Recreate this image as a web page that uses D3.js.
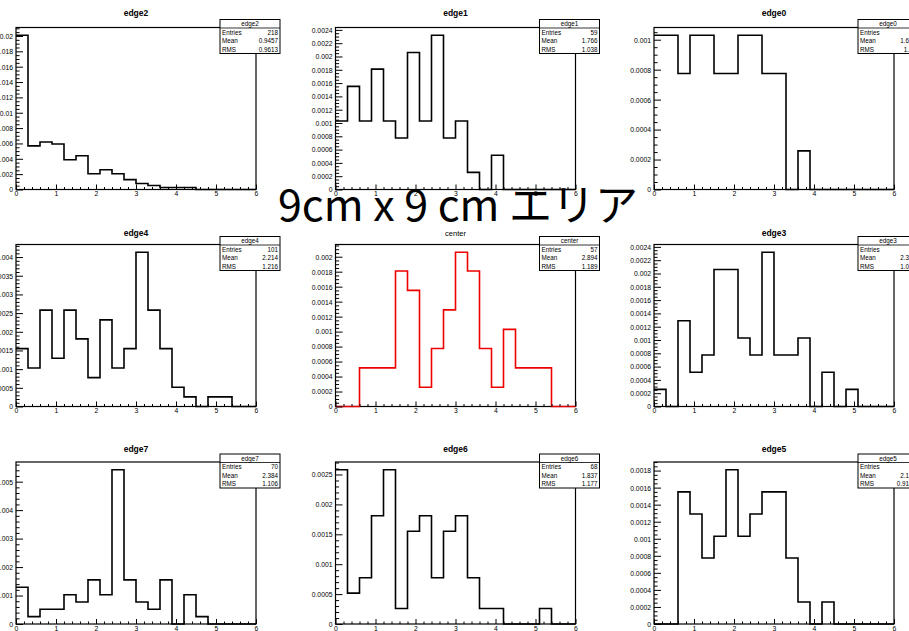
<!DOCTYPE html>
<html><head><meta charset="utf-8">
<script src="https://cdn.jsdelivr.net/npm/d3@7"></script>
<style>body{margin:0;background:#fff;overflow:hidden} svg{display:block}</style>
</head><body>
<svg id="c" width="909" height="631"></svg>
<script>
// ---- data (bin contents, 20 bins from 0 to 6) ----
const binLow = 0, binHigh = 6, nBins = 20;
const xTicks = [0, 1, 2, 3, 4, 5, 6];
const edge2  = [0.0201,0.00568,0.00619,0.00593,0.00387,0.00439,0.00206,0.00258,0.00206,0.00129,0.000774,0.000516,0.000258,0.000258,0.000258,0,0,0,0,0];
const edge1  = [0.00103,0.00155,0.00103,0.00181,0.00103,0.000774,0.00206,0.00103,0.00232,0.000774,0.00103,0.000258,0,0.000516,0,0,0,0,0,0];
const edge0  = [0.00103,0.00103,0.000774,0.00103,0.00103,0.000774,0.000774,0.00103,0.00103,0.000774,0.000774,0,0.000258,0,0,0,0,0,0,0];
const edge4  = [0.00155,0.00103,0.00258,0.00129,0.00258,0.00181,0.000774,0.00232,0.00103,0.00155,0.00413,0.00258,0.00155,0.000516,0.000258,0,0.000258,0.000258,0,0];
const center = [0,0,0.000516,0.000516,0.000516,0.00181,0.00155,0.000258,0.000774,0.00129,0.00206,0.00181,0.000774,0.000258,0.00103,0.000516,0.000516,0.000516,0,0];
const edge3  = [0.000258,0,0.00129,0.000516,0.000774,0.00206,0.00206,0.00103,0.000774,0.00232,0.000774,0.000774,0.00103,0,0.000516,0,0.000258,0,0,0];
const edge7  = [0.00129,0.000258,0.000516,0.000516,0.00103,0.000774,0.00155,0.00103,0.00542,0.00155,0.000774,0.000516,0.00155,0,0.00103,0.000258,0,0,0,0];
const edge6  = [0.00258,0.000516,0.000774,0.00181,0.00258,0.000258,0.00155,0.00181,0.000774,0.00155,0.00181,0.000774,0.000258,0.000258,0,0,0,0.000258,0,0];
const edge5  = [0,0,0.00155,0.00129,0.000774,0.00103,0.00181,0.00103,0.00129,0.00155,0.00155,0.000774,0.000258,0,0.000258,0,0,0,0,0];

const names   = ["edge2","edge1","edge0","edge4","center","edge3","edge7","edge6","edge5"];
const series  = [edge2, edge1, edge0, edge4, center, edge3, edge7, edge6, edge5];
const entries = ["218","59","40","101","57","56","70","68","51"];
const means   = ["0.9457","1.766","1.624","2.214","2.894","2.316","2.384","1.837","2.185"];
const rmsVals = ["0.9613","1.038","1.04","1.216","1.189","1.032","1.106","1.177","0.9163"];
const yStep   = [0.002,0.0002,0.0002,0.0005,0.0002,0.0002,0.001,0.0005,0.0002];
const lineColors = ["#000","#000","#000","#000","#e00","#000","#000","#000","#000"];
const overlayText = "9cm x 9 cm エリア";

// ---- layout ----
const svg = d3.select("#c");
svg.append("rect").attr("width",909).attr("height",631).attr("fill","#fff");
const colX = [16, 335.5, 654];
const rowY = [27.5, 244.5, 462];
const titleY = [16.3, 235.6, 452.4];
const FW = 240, FH = 162;
const FONT = "'Liberation Sans', Arial, Helvetica, sans-serif";
const fmt = d3.format("~g");
const binEdges = d3.range(nBins + 1).map(i => +(binLow + i * (binHigh - binLow) / nBins).toFixed(6));

series.forEach((vals, i) => {
  const c = i % 3, r = Math.floor(i / 3);
  const fx = colX[c], fy = rowY[r];
  const ymax = 1.05 * d3.max(vals);
  const x = d3.scaleLinear([binLow, binHigh], [fx, fx + FW]);
  const y = d3.scaleLinear([0, ymax], [fy + FH, fy]);
  const g = svg.append("g");

  // frame
  g.append("rect").attr("x", fx).attr("y", fy).attr("width", FW).attr("height", FH)
    .attr("fill", "none").attr("stroke", "#000").attr("stroke-width", 1.2);

  // histogram
  const pts = vals.map((v, k) => [binEdges[k], v]);
  pts.push([binEdges[nBins], vals[nBins - 1]]);
  const line = d3.line().x(d => x(d[0])).y(d => y(d[1])).curve(d3.curveStepAfter);
  g.append("path").attr("d", line(pts)).attr("fill", "none")
    .attr("stroke", lineColors[i]).attr("stroke-width", 1.6);

  // x axis major + minor
  const xMinor = d3.range(0, 31).map(k => +(k * 0.2).toFixed(4)).filter(v => !xTicks.includes(v));
  const xa = g.append("g").attr("transform", `translate(0,${fy + FH})`)
    .call(d3.axisBottom(x).tickValues(xTicks).tickSizeInner(-5).tickSizeOuter(0).tickPadding(2).tickFormat(fmt));
  const xm = g.append("g").attr("transform", `translate(0,${fy + FH})`)
    .call(d3.axisBottom(x).tickValues(xMinor).tickSizeInner(-2.5).tickSizeOuter(0).tickFormat(""));

  // y axis major + minor
  const st = yStep[i];
  const nMaj = Math.floor(ymax / st + 1e-9);
  const yMaj = d3.range(nMaj + 1).map(k => +(k * st).toPrecision(8));
  const mant = +(st / Math.pow(10, Math.floor(Math.log10(st)))).toFixed(3);
  const sub = mant === 2 ? 4 : 5;
  const ms = st / sub;
  const nMin = Math.floor(ymax / ms + 1e-9);
  const yMin = d3.range(nMin + 1).filter(k => k % sub !== 0).map(k => +(k * ms).toPrecision(8));
  const ya = g.append("g").attr("transform", `translate(${fx},0)`)
    .call(d3.axisLeft(y).tickValues(yMaj).tickSizeInner(-7).tickSizeOuter(0).tickPadding(3).tickFormat(fmt));
  const ym = g.append("g").attr("transform", `translate(${fx},0)`)
    .call(d3.axisLeft(y).tickValues(yMin).tickSizeInner(-3.6).tickSizeOuter(0).tickFormat(""));

  [xa, xm, ya, ym].forEach(a => {
    a.select(".domain").remove();
    a.selectAll("line").attr("stroke", "#000").attr("stroke-width", 1);
    a.selectAll("text").attr("fill", "#000").style("font-family", FONT).style("font-size", "6.8px");
  });
  ya.selectAll("text").attr("dy", "0.35em");
  xa.selectAll("text").attr("dy", "0.72em");

  // title
  const isCenter = names[i] === "center";
  g.append("text").attr("x", fx + FW / 2).attr("y", titleY[r]).attr("text-anchor", "middle")
    .style("font-family", FONT).style("font-size", isCenter ? "7.5px" : "8.5px")
    .style("font-weight", isCenter ? "normal" : "bold").text(names[i]);

  // stats box
  const bx = fx + FW - 36, by = fy - 8, bw = 60, bh = 34, rh = bh / 4;
  const sb = g.append("g");
  sb.append("rect").attr("x", bx).attr("y", by).attr("width", bw).attr("height", bh)
    .attr("fill", "#fff").attr("stroke", "#000").attr("stroke-width", 1);
  sb.append("line").attr("x1", bx).attr("x2", bx + bw).attr("y1", by + rh).attr("y2", by + rh)
    .attr("stroke", "#000").attr("stroke-width", 0.8);
  sb.append("text").attr("x", bx + bw / 2).attr("y", by + rh - 2).attr("text-anchor", "middle")
    .style("font-family", FONT).style("font-size", "6.3px").text(names[i]);
  const rows = [["Entries", entries[i]], ["Mean", means[i]], ["RMS", rmsVals[i]]];
  rows.forEach((rw, k) => {
    const ty = by + rh * (k + 2) - 2;
    sb.append("text").attr("x", bx + 2).attr("y", ty).style("font-family", FONT).style("font-size", "6.3px").text(rw[0]);
    sb.append("text").attr("x", bx + bw - 2).attr("y", ty).attr("text-anchor", "end")
      .style("font-family", FONT).style("font-size", "6.3px").text(rw[1]);
  });
});

// overlay label
svg.append("text").attr("x", 458).attr("y", 221).attr("text-anchor", "middle")
  .style("font-family", "'Noto Sans CJK JP', 'Noto Sans', sans-serif").style("font-size", "43px")
  .attr("fill", "#000").text(overlayText);
</script>
</body></html>
